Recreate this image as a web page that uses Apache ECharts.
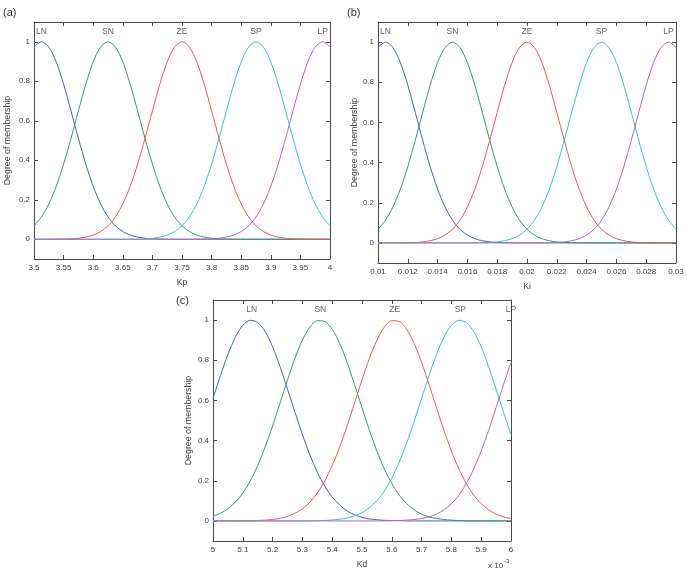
<!DOCTYPE html>
<html>
<head>
<meta charset="utf-8" />
<title>Membership functions</title>
<script src="https://cdn.jsdelivr.net/npm/echarts@6/dist/echarts.min.js"></script>
</head>
<body style="margin:0">
<div id="main" style="width:687px;height:576px"></div>
<script>
var mfNames = ["LN", "SN", "ZE", "SP", "LP"];
var mfColors = ["#4662c0", "#2f9c6c", "#f2554f", "#33c6c6", "#b466c4"];
var font = "'Liberation Sans', Arial, sans-serif";

// (a) Kp
var kpX = [3.5,3.5125,3.525,3.5375,3.55,3.5625,3.575,3.5875,3.6,3.6125,3.625,3.6375,3.65,3.6625,3.675,3.6875,3.7,3.7125,3.725,3.7375,3.75,3.7625,3.775,3.7875,3.8,3.8125,3.825,3.8375,3.85,3.8625,3.875,3.8875,3.9,3.9125,3.925,3.9375,3.95,3.9625,3.975,3.9875,4];
var kpLN = [0.973,1,0.973,0.898,0.785,0.650,0.511,0.380,0.268,0.179,0.113,0.068,0.039,0.021,0.011,0.005,0.002,0.001,0,0,0,0,0,0,0,0,0,0,0,0,0,0,0,0,0,0,0,0,0,0,0];
var kpSN = [0.068,0.113,0.179,0.268,0.380,0.511,0.650,0.785,0.898,0.973,1,0.973,0.898,0.785,0.650,0.511,0.380,0.268,0.179,0.113,0.068,0.039,0.021,0.011,0.005,0.002,0.001,0,0,0,0,0,0,0,0,0,0,0,0,0,0];
var kpZE = [0,0,0,0,0.001,0.002,0.005,0.011,0.021,0.039,0.068,0.113,0.179,0.268,0.380,0.511,0.650,0.785,0.898,0.973,1,0.973,0.898,0.785,0.650,0.511,0.380,0.268,0.179,0.113,0.068,0.039,0.021,0.011,0.005,0.002,0.001,0,0,0,0];
var kpSP = [0,0,0,0,0,0,0,0,0,0,0,0,0,0,0.001,0.002,0.005,0.011,0.021,0.039,0.068,0.113,0.179,0.268,0.380,0.511,0.650,0.785,0.898,0.973,1,0.973,0.898,0.785,0.650,0.511,0.380,0.268,0.179,0.113,0.068];
var kpLP = [0,0,0,0,0,0,0,0,0,0,0,0,0,0,0,0,0,0,0,0,0,0,0,0.001,0.002,0.005,0.011,0.021,0.039,0.068,0.113,0.179,0.268,0.380,0.511,0.650,0.785,0.898,0.973,1,0.973];
var kpLabelX = [3.5125, 3.625, 3.75, 3.875, 3.9875];

// (b) Ki
var kiX = [0.01,0.0105,0.011,0.0115,0.012,0.0125,0.013,0.0135,0.014,0.0145,0.015,0.0155,0.016,0.0165,0.017,0.0175,0.018,0.0185,0.019,0.0195,0.02,0.0205,0.021,0.0215,0.022,0.0225,0.023,0.0235,0.024,0.0245,0.025,0.0255,0.026,0.0265,0.027,0.0275,0.028,0.0285,0.029,0.0295,0.03];
var kiLN = [0.973,1,0.973,0.898,0.785,0.650,0.511,0.380,0.268,0.179,0.113,0.068,0.039,0.021,0.011,0.005,0.002,0.001,0,0,0,0,0,0,0,0,0,0,0,0,0,0,0,0,0,0,0,0,0,0,0];
var kiSN = [0.068,0.113,0.179,0.268,0.380,0.511,0.650,0.785,0.898,0.973,1,0.973,0.898,0.785,0.650,0.511,0.380,0.268,0.179,0.113,0.068,0.039,0.021,0.011,0.005,0.002,0.001,0,0,0,0,0,0,0,0,0,0,0,0,0,0];
var kiZE = [0,0,0,0,0.001,0.002,0.005,0.011,0.021,0.039,0.068,0.113,0.179,0.268,0.380,0.511,0.650,0.785,0.898,0.973,1,0.973,0.898,0.785,0.650,0.511,0.380,0.268,0.179,0.113,0.068,0.039,0.021,0.011,0.005,0.002,0.001,0,0,0,0];
var kiSP = [0,0,0,0,0,0,0,0,0,0,0,0,0,0,0.001,0.002,0.005,0.011,0.021,0.039,0.068,0.113,0.179,0.268,0.380,0.511,0.650,0.785,0.898,0.973,1,0.973,0.898,0.785,0.650,0.511,0.380,0.268,0.179,0.113,0.068];
var kiLP = [0,0,0,0,0,0,0,0,0,0,0,0,0,0,0,0,0,0,0,0,0,0,0,0.001,0.002,0.005,0.011,0.021,0.039,0.068,0.113,0.179,0.268,0.380,0.511,0.650,0.785,0.898,0.973,1,0.973];
var kiLabelX = [0.0105, 0.015, 0.02, 0.025, 0.0295];

// (c) Kd, in units of 1e-3
var kdX = [5,5.025,5.05,5.075,5.1,5.125,5.15,5.175,5.2,5.225,5.25,5.275,5.3,5.325,5.35,5.375,5.4,5.425,5.45,5.475,5.5,5.525,5.55,5.575,5.6,5.625,5.65,5.675,5.7,5.725,5.75,5.775,5.8,5.825,5.85,5.875,5.9,5.925,5.95,5.975,6];
var kdLN = [0.610,0.724,0.829,0.915,0.974,0.999,0.988,0.943,0.867,0.768,0.656,0.541,0.430,0.329,0.243,0.173,0.119,0.079,0.050,0.031,0.018,0.010,0.006,0.003,0.002,0.001,0,0,0,0,0,0,0,0,0,0,0,0,0,0,0];
var kdSN = [0.023,0.038,0.060,0.093,0.139,0.199,0.276,0.368,0.473,0.587,0.702,0.810,0.900,0.965,0.997,0.993,0.954,0.884,0.789,0.679,0.564,0.451,0.348,0.259,0.186,0.128,0.086,0.055,0.034,0.020,0.012,0.007,0.004,0.002,0.001,0,0,0,0,0,0];
var kdZE = [0,0,0,0,0.001,0.001,0.002,0.004,0.007,0.013,0.023,0.038,0.060,0.093,0.139,0.199,0.276,0.368,0.473,0.587,0.702,0.810,0.900,0.965,0.997,0.993,0.954,0.884,0.789,0.679,0.564,0.451,0.348,0.259,0.186,0.128,0.086,0.055,0.034,0.020,0.012];
var kdSP = [0,0,0,0,0,0,0,0,0,0,0,0,0,0.001,0.001,0.002,0.005,0.008,0.015,0.025,0.041,0.066,0.101,0.149,0.213,0.293,0.388,0.495,0.610,0.724,0.829,0.915,0.974,0.999,0.988,0.943,0.867,0.768,0.656,0.541,0.430];
var kdLP = [0,0,0,0,0,0,0,0,0,0,0,0,0,0,0,0,0,0,0,0,0,0,0,0,0.001,0.002,0.004,0.007,0.012,0.020,0.034,0.055,0.086,0.128,0.186,0.259,0.348,0.451,0.564,0.679,0.789];
var kdLabelX = [5.13, 5.36, 5.61, 5.83, 6.0];

var yTicks = [0, 0.2, 0.4, 0.6, 0.8, 1];
var labelY = 1.05;

var myChart = echarts.init(document.getElementById("main"));

var grids = [], xAxes = [], yAxes = [], series = [];
var textCol = "#404040";
var lineCol = "#4a4a4a";

function addPanel(g, box, xs, curves, labelX, xmin, xmax, xstep, xname, nameGapY) {
  grids.push({ left: box[0], top: box[1], width: box[2], height: box[3] });
  var baseX = {
    gridIndex: g, type: "value", min: xmin, max: xmax, interval: xstep,
    axisLine: { onZero: false, lineStyle: { color: lineCol, width: 1 } },
    axisTick: { inside: true, length: 4, lineStyle: { color: lineCol } },
    splitLine: { show: false }
  };
  xAxes.push(Object.assign({}, baseX, {
    position: "bottom",
    axisLabel: { color: textCol, fontSize: 8, margin: 5, fontFamily: font, showMinLabel: true, showMaxLabel: true },
    name: xname, nameLocation: "middle", nameGap: 19,
    nameTextStyle: { color: textCol, fontSize: 8.5, fontFamily: font }
  }));
  xAxes.push(Object.assign({}, baseX, { position: "top", axisLabel: { show: false } }));
  var baseY = {
    gridIndex: g, type: "value", min: -0.1, max: 1.1,
    axisLine: { onZero: false, lineStyle: { color: lineCol, width: 1 } },
    axisTick: { inside: true, length: 4, customValues: yTicks, lineStyle: { color: lineCol } },
    splitLine: { show: false }
  };
  yAxes.push(Object.assign({}, baseY, {
    position: "left",
    axisLabel: { color: textCol, fontSize: 8, margin: 4, fontFamily: font, customValues: yTicks },
    name: "Degree of membership", nameLocation: "middle", nameGap: nameGapY,
    nameTextStyle: { color: textCol, fontSize: 8.8, fontFamily: font }
  }));
  yAxes.push(Object.assign({}, baseY, { position: "right", axisLabel: { show: false } }));
  var xi = g * 2, yi = g * 2;
  curves.forEach(function (ys, k) {
    series.push({
      type: "line", xAxisIndex: xi, yAxisIndex: yi, symbol: "none", smooth: 0.3,
      silent: true, animation: false,
      lineStyle: { color: mfColors[k], width: 1 },
      data: xs.map(function (x, i) { return [x, ys[i]]; })
    });
  });
  series.push({
    type: "scatter", xAxisIndex: xi, yAxisIndex: yi, symbolSize: 1, silent: true, animation: false,
    itemStyle: { color: "rgba(0,0,0,0)" },
    label: {
      show: true, position: "inside", color: "#333", fontSize: 8.5, fontFamily: font,
      formatter: function (p) { return p.data[2]; }
    },
    data: labelX.map(function (x, k) { return [x, labelY, mfNames[k]]; })
  });
}

addPanel(0, [34, 22, 296, 237], kpX, [kpLN, kpSN, kpZE, kpSP, kpLP], kpLabelX, 3.5, 4, 0.05, "Kp", 22);
addPanel(1, [378, 22, 298, 241], kiX, [kiLN, kiSN, kiZE, kiSP, kiLP], kiLabelX, 0.01, 0.03, 0.002, "Ki", 18);
addPanel(2, [213, 300, 298, 241], kdX, [kdLN, kdSN, kdZE, kdSP, kdLP], kdLabelX, 5, 6, 0.1, "Kd", 19.5);

var option = {
  animation: false,
  backgroundColor: "#fff",
  grid: grids,
  xAxis: xAxes,
  yAxis: yAxes,
  series: series,
  graphic: [
    { type: "text", left: 3, top: 7, style: { text: "(a)", fill: "#333", font: "11px " + font } },
    { type: "text", left: 347, top: 7, style: { text: "(b)", fill: "#333", font: "11px " + font } },
    { type: "text", left: 176, top: 295, style: { text: "(c)", fill: "#333", font: "11px " + font } },
    { type: "text", left: 488, top: 562, style: { text: "x 10", fill: textCol, font: "8px " + font } },
    { type: "text", left: 504, top: 558, style: { text: "-3", fill: textCol, font: "6px " + font } }
  ]
};
myChart.setOption(option);
</script>
</body>
</html>
